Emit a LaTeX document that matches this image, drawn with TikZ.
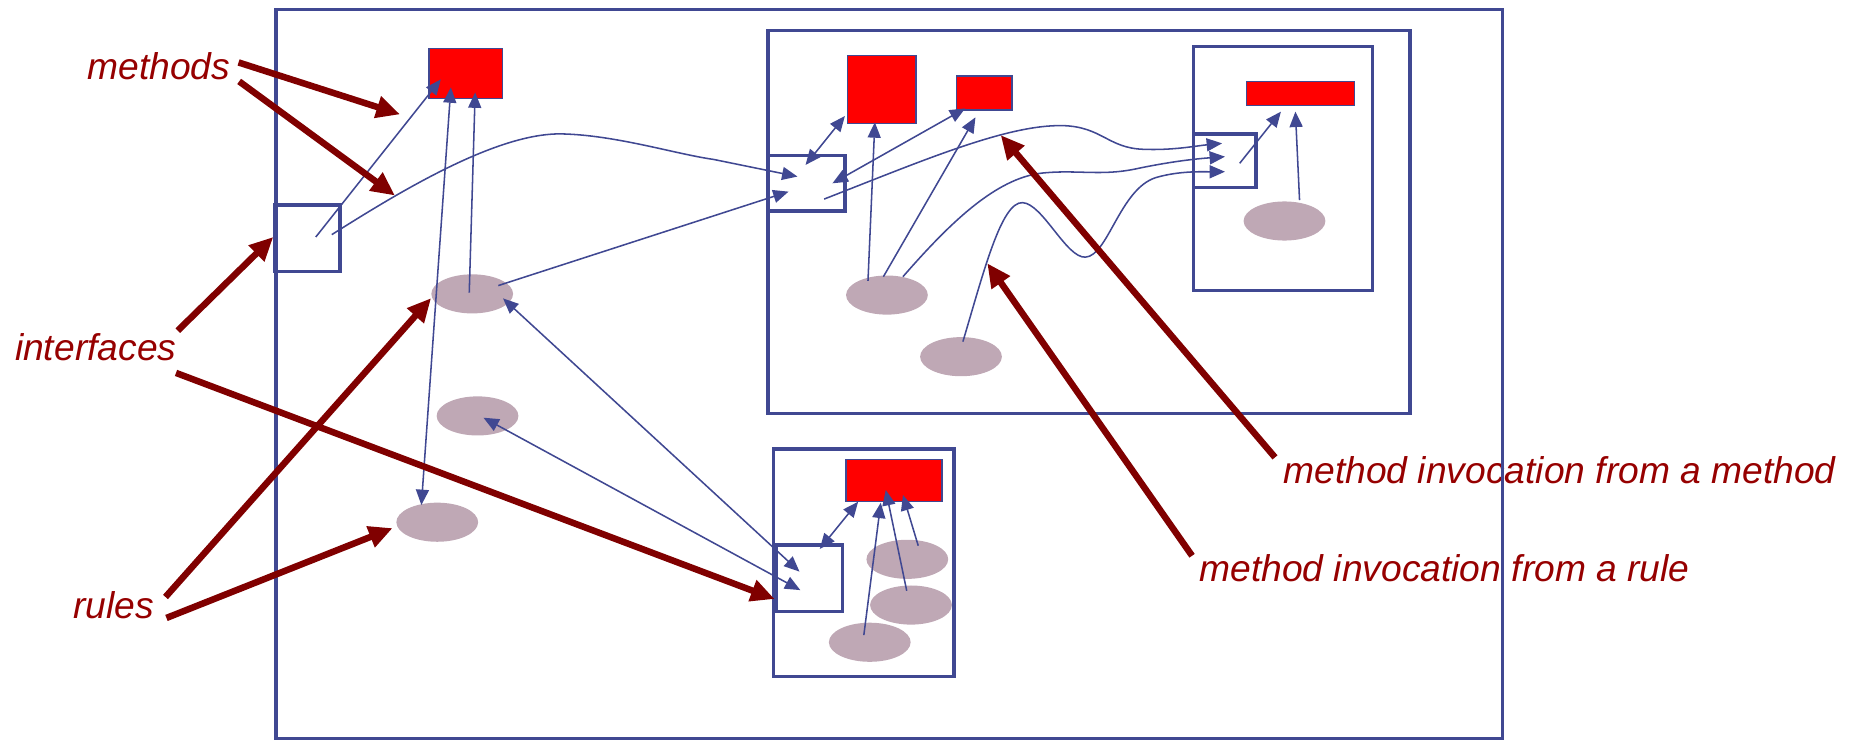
\documentclass[tikz,border=0pt]{standalone}
\usepackage{fontspec}
\setmainfont{Liberation Sans}
\usetikzlibrary{arrows.meta,shapes.geometric}
\definecolor{frameblue}{RGB}{64,72,146}
\definecolor{methred}{RGB}{255,0,0}
\definecolor{rulefill}{RGB}{191,168,181}
\definecolor{annored}{RGB}{128,0,0}
\definecolor{annotext}{RGB}{150,0,0}

\begin{document}
\begin{tikzpicture}[x=1pt,y=-1pt,
  box/.style={draw=frameblue, line width=2.8pt, inner sep=0pt},
  meth/.style={draw=frameblue, line width=1.2pt, fill=methred, inner sep=0pt},
  rulenode/.style={ellipse, fill=rulefill, inner sep=0pt, minimum width=69pt, minimum height=33pt},
  conn/.style={draw=frameblue, line width=1.3pt, -{Triangle[length=13pt,width=11pt]}},
  bconn/.style={draw=frameblue, line width=1.3pt, {Triangle[length=13pt,width=11pt]}-{Triangle[length=13pt,width=11pt]}},
  ptr/.style={draw=annored, line width=5.5pt, -{Triangle[length=20pt,width=18pt]}},
  note/.style={text=annotext, font=\fontsize{31.4}{37}\selectfont\itshape, inner sep=0pt, anchor=base west},
]
\useasboundingbox (0,0) rectangle (1568,625);

% annotation texts
\node[note] (lmethods) at (73.5,66.7) {methods};
\node[note] (linterfaces) at (12.5,304) {interfaces};
\node[note] (lrules) at (61.5,522) {rules};
\node[note] (lfrommethod) at (1083,408) {method invocation from a method};
\node[note] (lfromrule) at (1012,491) {method invocation from a rule};

% rules
\node[rulenode] (e0) at (398.5,248) {};
\node[rulenode] (e1) at (403,351) {};
\node[rulenode] (e2) at (369,440.7) {};
\node[rulenode] (e3) at (748.5,249) {};
\node[rulenode] (e4) at (811,301) {};
\node[rulenode] (e5) at (1084,186.5) {};
\node[rulenode] (e6) at (765.7,472) {};
\node[rulenode] (e7) at (768.8,510.6) {};
\node[rulenode] (e8) at (734,542) {};

% components
\node[box, minimum width=1035pt, minimum height=615pt] (outer) at (750.5,315.5) {};
\node[box, minimum width=542pt, minimum height=323pt] (boxa) at (919,187.5) {};
\node[box, minimum width=151pt, minimum height=206pt] (boxb) at (1082.5,142) {};
\node[box, minimum width=152pt, minimum height=192pt] (boxc) at (729,475) {};

% interfaces
\node[box, minimum width=55pt, minimum height=56pt] (i0) at (259.5,201) {};
\node[box, minimum width=65pt, minimum height=47pt] (i1) at (680.5,154.5) {};
\node[box, minimum width=53pt, minimum height=45pt] (i2) at (1033.5,135.5) {};
\node[box, minimum width=56pt, minimum height=56pt] (i3) at (683,488) {};

% methods
\node[meth, minimum width=62pt, minimum height=42pt] (m0) at (393,62) {};
\node[meth, minimum width=58pt, minimum height=57pt] (m1) at (744,75.5) {};
\node[meth, minimum width=47pt, minimum height=29pt] (m2) at (830.5,78.5) {};
\node[meth, minimum width=91pt, minimum height=20pt] (m3) at (1097.5,79) {};
\node[meth, minimum width=81pt, minimum height=35pt] (m4) at (754.5,405.5) {};

% invocations in the outer component
\draw[conn] ([shift={(7,-1)}]i0.center) -- ([shift={(-21,5)}]m0.center);
\draw[conn] ([shift={(20.5,-3)}]i0.center) .. controls (340,160) and (420,112) .. (474,113)
  .. controls (520,114) and (570,130) .. (602,134.5) -- ([shift={(-7.5,-5.5)}]i1.center);
\draw[conn] ([shift={(-2.5,-1)}]e0.center) -- ([shift={(8,16)}]m0.center);
\draw[bconn] ([shift={(-12.5,11.7)}]m0.center) -- ([shift={(-13.4,-14.5)}]e2.center);
\draw[conn] ([shift={(22,-7)}]e0.center) -- ([shift={(-15,7.2)}]i1.center);
\draw[bconn] ([shift={(26,3.8)}]e0.center) -- ([shift={(-8.3,-5.6)}]i3.center);
\draw[bconn] ([shift={(5,1.5)}]e1.center) -- ([shift={(-7.6,10)}]i3.center);

% invocations in component A
\draw[bconn] ([shift={(-0.7,-15.3)}]i1.center) -- ([shift={(-31,22.4)}]m1.center);
\draw[bconn] ([shift={(22,0.2)}]i1.center) -- ([shift={(-16,13)}]m2.center);
\draw[conn] ([shift={(-16,-12)}]e3.center) -- ([shift={(-5.7,27.7)}]m1.center);
\draw[conn] ([shift={(-3,-15.5)}]e3.center) -- ([shift={(-7.3,20.5)}]m2.center);
\draw[conn] ([shift={(15,13.5)}]i1.center) .. controls (780,135) and (850,105) .. (897,106)
  .. controls (930,107) and (935,125) .. (965,126)
  .. controls (990,127) and (1010,123) .. ([shift={(-2.2,-14.5)}]i2.center);
\draw[conn] ([shift={(13.5,-15.5)}]e3.center) .. controls (800,190) and (840,150) .. (880,146)
  .. controls (910,143) and (930,149) .. (961,142)
  .. controls (990,136) and (1010,134) .. ([shift={(0.3,-3.3)}]i2.center);
\draw[conn] ([shift={(1.6,-12.7)}]e4.center) .. controls (830,230) and (845,170) .. (863,171)
  .. controls (880,172) and (900,218) .. (916,217)
  .. controls (935,216) and (945,160) .. (975,150)
  .. controls (995,144) and (1015,145) .. ([shift={(0.3,9.4)}]i2.center);

% invocations in component B
\draw[conn] ([shift={(12.7,2.3)}]i2.center) -- ([shift={(-16.5,15.2)}]m3.center);
\draw[conn] ([shift={(12.7,-17.7)}]e5.center) -- ([shift={(-4.3,15.2)}]m3.center);

% invocations in component C
\draw[bconn] ([shift={(8.8,-24.7)}]i3.center) -- ([shift={(-30.3,17.9)}]m4.center);
\draw[conn] ([shift={(-5,-6)}]e8.center) -- ([shift={(-11.2,18.7)}]m4.center);
\draw[conn] ([shift={(-3.6,-12)}]e7.center) -- ([shift={(-7,8)}]m4.center);
\draw[conn] ([shift={(9.2,-11.5)}]e6.center) -- ([shift={(7.5,12.2)}]m4.center);

% free ends of the annotation pointers
\coordinate (ptrm1) at (337.6,96.5);
\coordinate (ptrm2) at (333.3,165);
\coordinate (ptrfm) at (844.5,114);
\coordinate (ptrfr) at (833.2,222.2);

% annotation pointers
\draw[ptr] ([shift={(7,-14)}]lmethods.base east) -- (ptrm1);
\draw[ptr] ([shift={(7.5,2)}]lmethods.base east) -- (ptrm2);
\draw[ptr] ([shift={(1,-25)}]linterfaces.base east) -- ([shift={(0,-1)}]i0.west);
\draw[ptr] ([shift={(-0.5,10.7)}]linterfaces.base east) -- ([shift={(-29.3,17.5)}]i3.center);
\draw[ptr] ([shift={(9.7,-18.2)}]lrules.base east) -- ([shift={(0,3.6)}]e0.west);
\draw[ptr] ([shift={(10.5,-0.5)}]lrules.base east) -- ([shift={(-3,5)}]e2.west);
\draw[ptr] ([shift={(-7,-22)}]lfrommethod.base west) -- (ptrfm);
\draw[ptr] ([shift={(-6,-22)}]lfromrule.base west) -- (ptrfr);
\end{tikzpicture}
\end{document}
